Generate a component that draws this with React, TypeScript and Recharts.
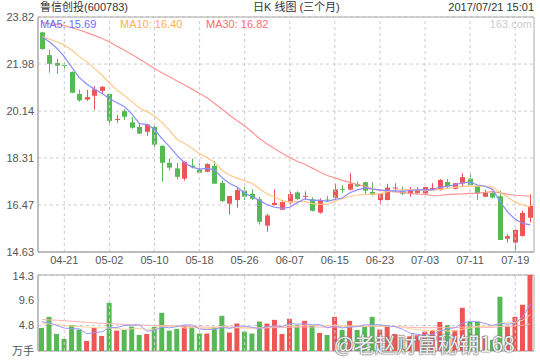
import React from 'react';
import {
  ComposedChart,
  Bar,
  Line,
  XAxis,
  YAxis,
  CartesianGrid,
  ReferenceLine,
  ReferenceArea,
  Cell,
} from 'recharts';

const dates = [
  '04-18', '04-19', '04-20', '04-21', '04-24', '04-25', '04-26', '04-27', '04-28',
  '05-02', '05-03', '05-04', '05-05', '05-08', '05-09', '05-10', '05-11', '05-12',
  '05-15', '05-16', '05-17', '05-18', '05-19', '05-22', '05-23', '05-24', '05-25', '05-26',
  '05-31', '06-01', '06-02', '06-05', '06-06', '06-07', '06-08', '06-09',
  '06-12', '06-13', '06-14', '06-15', '06-16', '06-19', '06-20', '06-21', '06-22', '06-23',
  '06-26', '06-27', '06-28', '06-29', '06-30', '07-03', '07-04', '07-05', '07-06', '07-07',
  '07-10', '07-11', '07-12', '07-13', '07-14', '07-17', '07-18', '07-19', '07-20', '07-21',
];

const opens = [
  23.22, 22.33, 22.02, 21.94, 21.67, 20.81, 20.59, 20.74, 20.93, 20.81,
  19.80, 20.14, 19.70, 19.52, 19.33, 19.52, 18.78, 18.12, 17.90, 17.50,
  18.01, 17.85, 17.77, 18.00, 17.33, 16.52, 16.66, 17.03, 16.90, 16.69,
  15.66, 16.47, 16.28, 16.57, 16.96, 16.79, 16.69, 16.17, 16.68, 16.75,
  17.10, 17.07, 17.29, 17.36, 16.98, 16.66, 16.66, 17.13, 17.01, 16.91,
  16.94, 16.92, 17.05, 17.05, 17.37, 17.10, 17.31, 17.50, 17.22, 16.79,
  16.94, 16.81, 15.15, 15.00, 15.26, 15.97,
];
const highs = [
  23.24, 22.54, 22.19, 22.05, 21.69, 20.98, 20.97, 21.12, 21.12, 20.82,
  19.99, 20.22, 19.91, 19.65, 19.63, 19.66, 18.80, 18.29, 18.12, 18.17,
  18.29, 18.10, 18.10, 18.19, 17.43, 16.82, 17.17, 17.17, 17.08, 16.79,
  16.12, 17.08, 16.67, 17.00, 17.00, 17.00, 16.77, 16.73, 16.82, 17.30,
  17.24, 17.72, 17.39, 17.38, 17.36, 16.92, 17.30, 17.32, 17.19, 17.17,
  17.17, 17.18, 17.32, 17.48, 17.48, 17.32, 17.71, 17.67, 17.22, 17.07,
  16.98, 17.03, 15.33, 15.52, 16.25, 16.89,
];
const lows = [
  22.54, 21.64, 21.60, 21.80, 20.84, 20.51, 20.54, 20.19, 20.80, 19.62,
  19.69, 19.80, 19.45, 19.24, 19.17, 18.72, 17.39, 17.82, 17.48, 17.42,
  17.90, 17.71, 17.75, 17.30, 16.59, 16.09, 16.36, 16.66, 16.66, 15.70,
  15.42, 16.45, 16.28, 16.49, 16.66, 16.66, 16.21, 16.13, 16.58, 16.71,
  16.93, 17.03, 17.17, 16.89, 16.83, 16.50, 16.66, 16.98, 16.86, 16.79,
  16.86, 16.90, 17.05, 17.03, 17.09, 17.08, 17.21, 17.24, 16.66, 16.79,
  16.72, 15.10, 15.00, 14.65, 15.23, 15.78,
];
const closes = [
  22.57, 21.99, 21.92, 21.92, 20.86, 20.56, 20.69, 20.99, 21.09, 19.76,
  19.83, 19.92, 19.49, 19.26, 19.62, 18.83, 18.12, 17.93, 17.57, 18.16,
  17.95, 17.73, 18.07, 17.30, 16.62, 16.82, 17.05, 16.79, 16.71, 15.81,
  16.06, 16.55, 16.58, 16.89, 16.70, 16.82, 16.24, 16.64, 16.65, 17.08,
  17.08, 17.30, 17.20, 17.03, 16.86, 16.92, 17.15, 17.15, 16.91, 17.05,
  17.05, 17.17, 17.13, 17.45, 17.21, 17.32, 17.56, 17.24, 16.92, 16.94,
  16.76, 15.10, 15.25, 15.49, 16.16, 16.43,
];

const ma5 = [
  23.05, 22.85, 22.60, 22.27, 21.85, 21.45, 21.19, 21.00, 20.84, 20.62,
  20.47, 20.32, 20.02, 19.65, 19.62, 19.42, 19.06, 18.75, 18.41, 18.12,
  17.95, 17.87, 17.90, 17.84, 17.53, 17.31, 17.17, 16.92, 16.80, 16.64,
  16.48, 16.38, 16.34, 16.38, 16.56, 16.71, 16.65, 16.66, 16.61, 16.69,
  16.74, 16.95, 17.06, 17.14, 17.09, 17.06, 17.03, 17.02, 17.00, 17.04,
  17.06, 17.07, 17.06, 17.17, 17.20, 17.26, 17.33, 17.36, 17.25, 17.20,
  17.08, 16.59, 16.19, 15.91, 15.75, 15.69,
];
const ma10 = [
  23.05, 22.96, 22.85, 22.72, 22.53, 22.27, 22.07, 21.81, 21.55, 21.24,
  20.96, 20.75, 20.51, 20.25, 20.12, 19.95, 19.69, 19.39, 19.03, 18.87,
  18.69, 18.47, 18.32, 18.13, 17.83, 17.63, 17.52, 17.41, 17.32, 17.09,
  16.90, 16.78, 16.63, 16.59, 16.60, 16.60, 16.52, 16.50, 16.49, 16.62,
  16.72, 16.80, 16.86, 16.87, 16.89, 16.90, 16.99, 17.04, 17.07, 17.07,
  17.06, 17.05, 17.04, 17.08, 17.12, 17.16, 17.20, 17.21, 17.21, 17.20,
  17.17, 16.96, 16.78, 16.58, 16.47, 16.39,
];
const ma30 = [
  23.60, 23.56, 23.53, 23.48, 23.40, 23.31, 23.21, 23.10, 22.98, 22.85,
  22.68, 22.52, 22.35, 22.18, 21.99, 21.81, 21.64, 21.48, 21.32, 21.16,
  21.00, 20.83, 20.66, 20.44, 20.21, 19.98, 19.76, 19.56, 19.32, 19.06,
  18.85, 18.67, 18.49, 18.32, 18.18, 18.06, 17.91, 17.76, 17.62, 17.53,
  17.43, 17.35, 17.27, 17.20, 17.10, 17.04, 17.01, 16.98, 16.96, 16.92,
  16.89, 16.88, 16.84, 16.85, 16.87, 16.89, 16.90, 16.92, 16.92, 16.96,
  16.99, 16.94, 16.89, 16.85, 16.83, 16.81,
];

const volumes = [
  4.35, 6.43, 3.21, 2.27, 4.85, 4.03, 1.89, 4.35, 2.84, 9.07,
  3.84, 3.97, 4.60, 3.02, 3.21, 4.54, 7.18, 3.84, 4.16, 4.79,
  4.60, 3.28, 3.28, 4.54, 6.62, 3.47, 5.17, 3.65, 3.28, 5.54,
  5.17, 5.86, 3.21, 6.05, 4.85, 5.67, 4.85, 3.40, 3.02, 6.43,
  3.97, 5.67, 3.97, 4.54, 6.43, 4.03, 4.73, 3.21, 2.08, 2.77,
  2.96, 3.65, 3.97, 5.48, 4.85, 3.91, 8.13, 5.48, 5.48, 2.84,
  2.08, 10.21, 4.60, 6.43, 8.70, 14.30,
];
const volMa5 = [
  5.50, 5.30, 4.80, 4.30, 4.22, 4.16, 3.25, 3.48, 3.59, 4.44,
  4.40, 4.81, 4.86, 4.90, 3.73, 3.87, 4.51, 4.36, 4.59, 4.90,
  4.91, 4.13, 4.02, 4.10, 4.46, 4.24, 4.62, 4.69, 4.44, 4.22,
  4.56, 4.70, 4.61, 5.17, 5.03, 5.13, 4.93, 4.96, 4.36, 4.67,
  4.33, 4.50, 4.61, 4.92, 4.92, 4.93, 4.74, 4.59, 4.10, 3.36,
  3.15, 2.93, 3.09, 3.77, 4.18, 4.37, 5.27, 5.57, 5.57, 5.17,
  4.80, 5.22, 5.04, 5.23, 6.40, 8.85,
];
const volMa10 = [
  5.20, 5.10, 5.00, 4.80, 4.70, 4.60, 4.50, 4.40, 4.35, 4.33,
  4.28, 4.03, 4.17, 4.25, 4.08, 4.13, 4.66, 4.61, 4.74, 4.32,
  4.39, 4.32, 4.19, 4.34, 4.68, 4.58, 4.38, 4.36, 4.27, 4.34,
  4.40, 4.66, 4.65, 4.80, 4.63, 4.85, 4.81, 4.79, 4.76, 4.85,
  4.73, 4.71, 4.79, 4.64, 4.80, 4.63, 4.62, 4.60, 4.51, 4.14,
  4.04, 3.84, 3.84, 3.93, 3.77, 3.76, 4.10, 4.33, 4.67, 4.68,
  4.59, 5.24, 5.31, 5.40, 5.79, 6.83,
];
const volMa30 = [
  5.90, 5.85, 5.80, 5.70, 5.60, 5.50, 5.40, 5.30, 5.20, 5.15,
  5.10, 5.00, 4.95, 4.90, 4.85, 4.80, 4.80, 4.75, 4.70, 4.65,
  4.60, 4.55, 4.50, 4.45, 4.45, 4.40, 4.40, 4.35, 4.35, 4.33,
  4.36, 4.40, 4.40, 4.45, 4.48, 4.52, 4.52, 4.50, 4.50, 4.52,
  4.51, 4.55, 4.58, 4.60, 4.65, 4.68, 4.65, 4.60, 4.55, 4.45,
  4.39, 4.38, 4.38, 4.40, 4.40, 4.41, 4.50, 4.52, 4.50, 4.45,
  4.45, 4.60, 4.65, 4.75, 4.85, 5.07,
];

const tickDates = ['04-21', '05-02', '05-10', '05-18', '05-26', '06-07', '06-15', '06-23', '07-03', '07-11', '07-19'];
const priceTicks = [14.63, 16.47, 18.31, 20.14, 21.98, 23.82];
const volTicks = [0, 4.8, 9.6, 14.3];

const RED = '#EE5656';
const GREEN = '#56B956';
const FONT = '"Liberation Sans", Arial, "Noto Sans CJK SC", sans-serif';
const GRID = '#cccccc';
const BORDER = '#aaaaaa';

const data = dates.map((d, i) => ({
  date: d,
  open: opens[i],
  high: highs[i],
  low: lows[i],
  close: closes[i],
  range: [lows[i], highs[i]],
  ma5: ma5[i],
  ma10: ma10[i],
  ma30: ma30[i],
  vol: volumes[i],
  vma5: volMa5[i],
  vma10: volMa10[i],
  vma30: volMa30[i],
}));

const Candle = (props: any) => {
  const { x, y, width, height, payload } = props;
  if (x == null || y == null || !payload) return null;
  const { open, close, high, low } = payload;
  const top = Math.min(y, y + height);
  const h = Math.abs(height);
  const k = high - low > 0 ? h / (high - low) : 0;
  const yo = top + (high - open) * k;
  const yc = top + (high - close) * k;
  const up = close >= open;
  const color = up ? RED : GREEN;
  const cx = Math.round(x + width / 2) + 0.5;
  const bt = Math.min(yo, yc);
  const bh = Math.max(1, Math.abs(yo - yc));
  return (
    <g>
      <line x1={cx} x2={cx} y1={top} y2={top + h} stroke={color} strokeWidth={1} />
      <rect x={cx - 2.5} y={bt} width={5} height={bh} fill={color} />
    </g>
  );
};

const tickStyle = { fontSize: 11, fill: '#555', fontFamily: FONT };

export default function App() {
  return (
    <div
      style={{
        position: 'absolute',
        left: 0,
        top: 0,
        width: 540,
        height: 360,
        background: '#fff',
        overflow: 'hidden',
        fontFamily: FONT,
      }}
    >
      <div style={{ position: 'absolute', left: 40, top: 0, fontSize: 11, color: '#333', lineHeight: '14px' }}>
        鲁信创投(600783)
      </div>
      <div style={{ position: 'absolute', left: 253, top: 0, fontSize: 11, color: '#333', lineHeight: '14px' }}>
        日K 线图 (三个月)
      </div>
      <div style={{ position: 'absolute', right: 6, top: 0, fontSize: 11, color: '#333', lineHeight: '14px' }}>
        2017/07/21 15:01
      </div>

      <div style={{ position: 'absolute', left: 0, top: 0 }}>
        <ComposedChart width={540} height={270} data={data} margin={{ top: 17, right: 6, bottom: 0, left: 0 }}>
          <CartesianGrid vertical={false} stroke={GRID} strokeDasharray="3 3" />
          {tickDates.map((d) => (
            <ReferenceLine key={d} x={d} stroke={GRID} strokeDasharray="3 3" />
          ))}
          <XAxis
            dataKey="date"
            ticks={tickDates}
            interval={0}
            height={18}
            tickLine={false}
            tickSize={0}
            tickMargin={4}
            axisLine={{ stroke: BORDER }}
            tick={tickStyle}
          />
          <YAxis
            domain={[14.63, 23.82]}
            ticks={priceTicks}
            allowDataOverflow
            width={38}
            tickLine={false}
            tickSize={0}
            tickMargin={4}
            axisLine={{ stroke: BORDER }}
            tick={tickStyle}
            tickFormatter={(v: number) => v.toFixed(2)}
          />
          <ReferenceArea y1={14.63} y2={23.82} fill="none" stroke={BORDER} strokeWidth={1} />
          <Bar dataKey="range" shape={Candle} barSize={5} isAnimationActive={false} />
          <Line type="linear" dataKey="ma30" stroke="#ff9494" strokeWidth={1.2} dot={false} activeDot={false} isAnimationActive={false} />
          <Line type="linear" dataKey="ma10" stroke="#ffc98a" strokeWidth={1.2} dot={false} activeDot={false} isAnimationActive={false} />
          <Line type="linear" dataKey="ma5" stroke="#8c8cff" strokeWidth={1.2} dot={false} activeDot={false} isAnimationActive={false} />
        </ComposedChart>
      </div>

      <div style={{ position: 'absolute', left: 40, top: 17, fontSize: 11, color: '#6c6cff', lineHeight: '14px' }}>
        MA5: 15.69
      </div>
      <div style={{ position: 'absolute', left: 120, top: 17, fontSize: 11, color: '#ffb04a', lineHeight: '14px' }}>
        MA10: 16.40
      </div>
      <div style={{ position: 'absolute', left: 206, top: 17, fontSize: 11, color: '#ff6c6c', lineHeight: '14px' }}>
        MA30: 16.82
      </div>
      <div style={{ position: 'absolute', right: 8, top: 17, fontSize: 11, color: '#cccccc', lineHeight: '14px' }}>
        163.com
      </div>

      <div style={{ position: 'absolute', left: 0, top: 270 }}>
        <ComposedChart width={540} height={90} data={data} margin={{ top: 5, right: 6, bottom: 9, left: 0 }}>
          <CartesianGrid vertical={false} stroke={GRID} strokeDasharray="3 3" />
          {tickDates.map((d) => (
            <ReferenceLine key={d} x={d} stroke={GRID} strokeDasharray="3 3" />
          ))}
          <XAxis dataKey="date" hide />
          <YAxis
            domain={[0, 14.3]}
            ticks={volTicks}
            allowDataOverflow
            width={38}
            tickLine={false}
            tickSize={0}
            tickMargin={4}
            axisLine={{ stroke: BORDER }}
            tick={tickStyle}
            tickFormatter={(v: number) => (v === 0 ? '万手' : String(v))}
          />
          <ReferenceArea y1={0} y2={14.3} fill="none" stroke={BORDER} strokeWidth={1} />
          <Bar dataKey="vol" barSize={5} isAnimationActive={false}>
            {data.map((d, i) => (
              <Cell key={i} fill={d.close >= d.open ? RED : GREEN} />
            ))}
          </Bar>
          <Line type="linear" dataKey="vma30" stroke="#ffb0b0" strokeWidth={1} dot={false} activeDot={false} isAnimationActive={false} />
          <Line type="linear" dataKey="vma10" stroke="#ffd39e" strokeWidth={1} dot={false} activeDot={false} isAnimationActive={false} />
          <Line type="linear" dataKey="vma5" stroke="#9a9aff" strokeWidth={1} dot={false} activeDot={false} isAnimationActive={false} />
        </ComposedChart>
      </div>

      <div
        style={{
          position: 'absolute',
          left: 334,
          top: 330,
          fontSize: 21,
          lineHeight: '26px',
          color: 'rgba(255,255,255,0.9)',
          fontFamily: '"Noto Sans CJK SC", sans-serif',
          textShadow: '0 0 1px #666, 0 0 1px #666, 0 0 2px #888',
          whiteSpace: 'nowrap',
        }}
      >
        @老赵财富秘钥168
      </div>
    </div>
  );
}
